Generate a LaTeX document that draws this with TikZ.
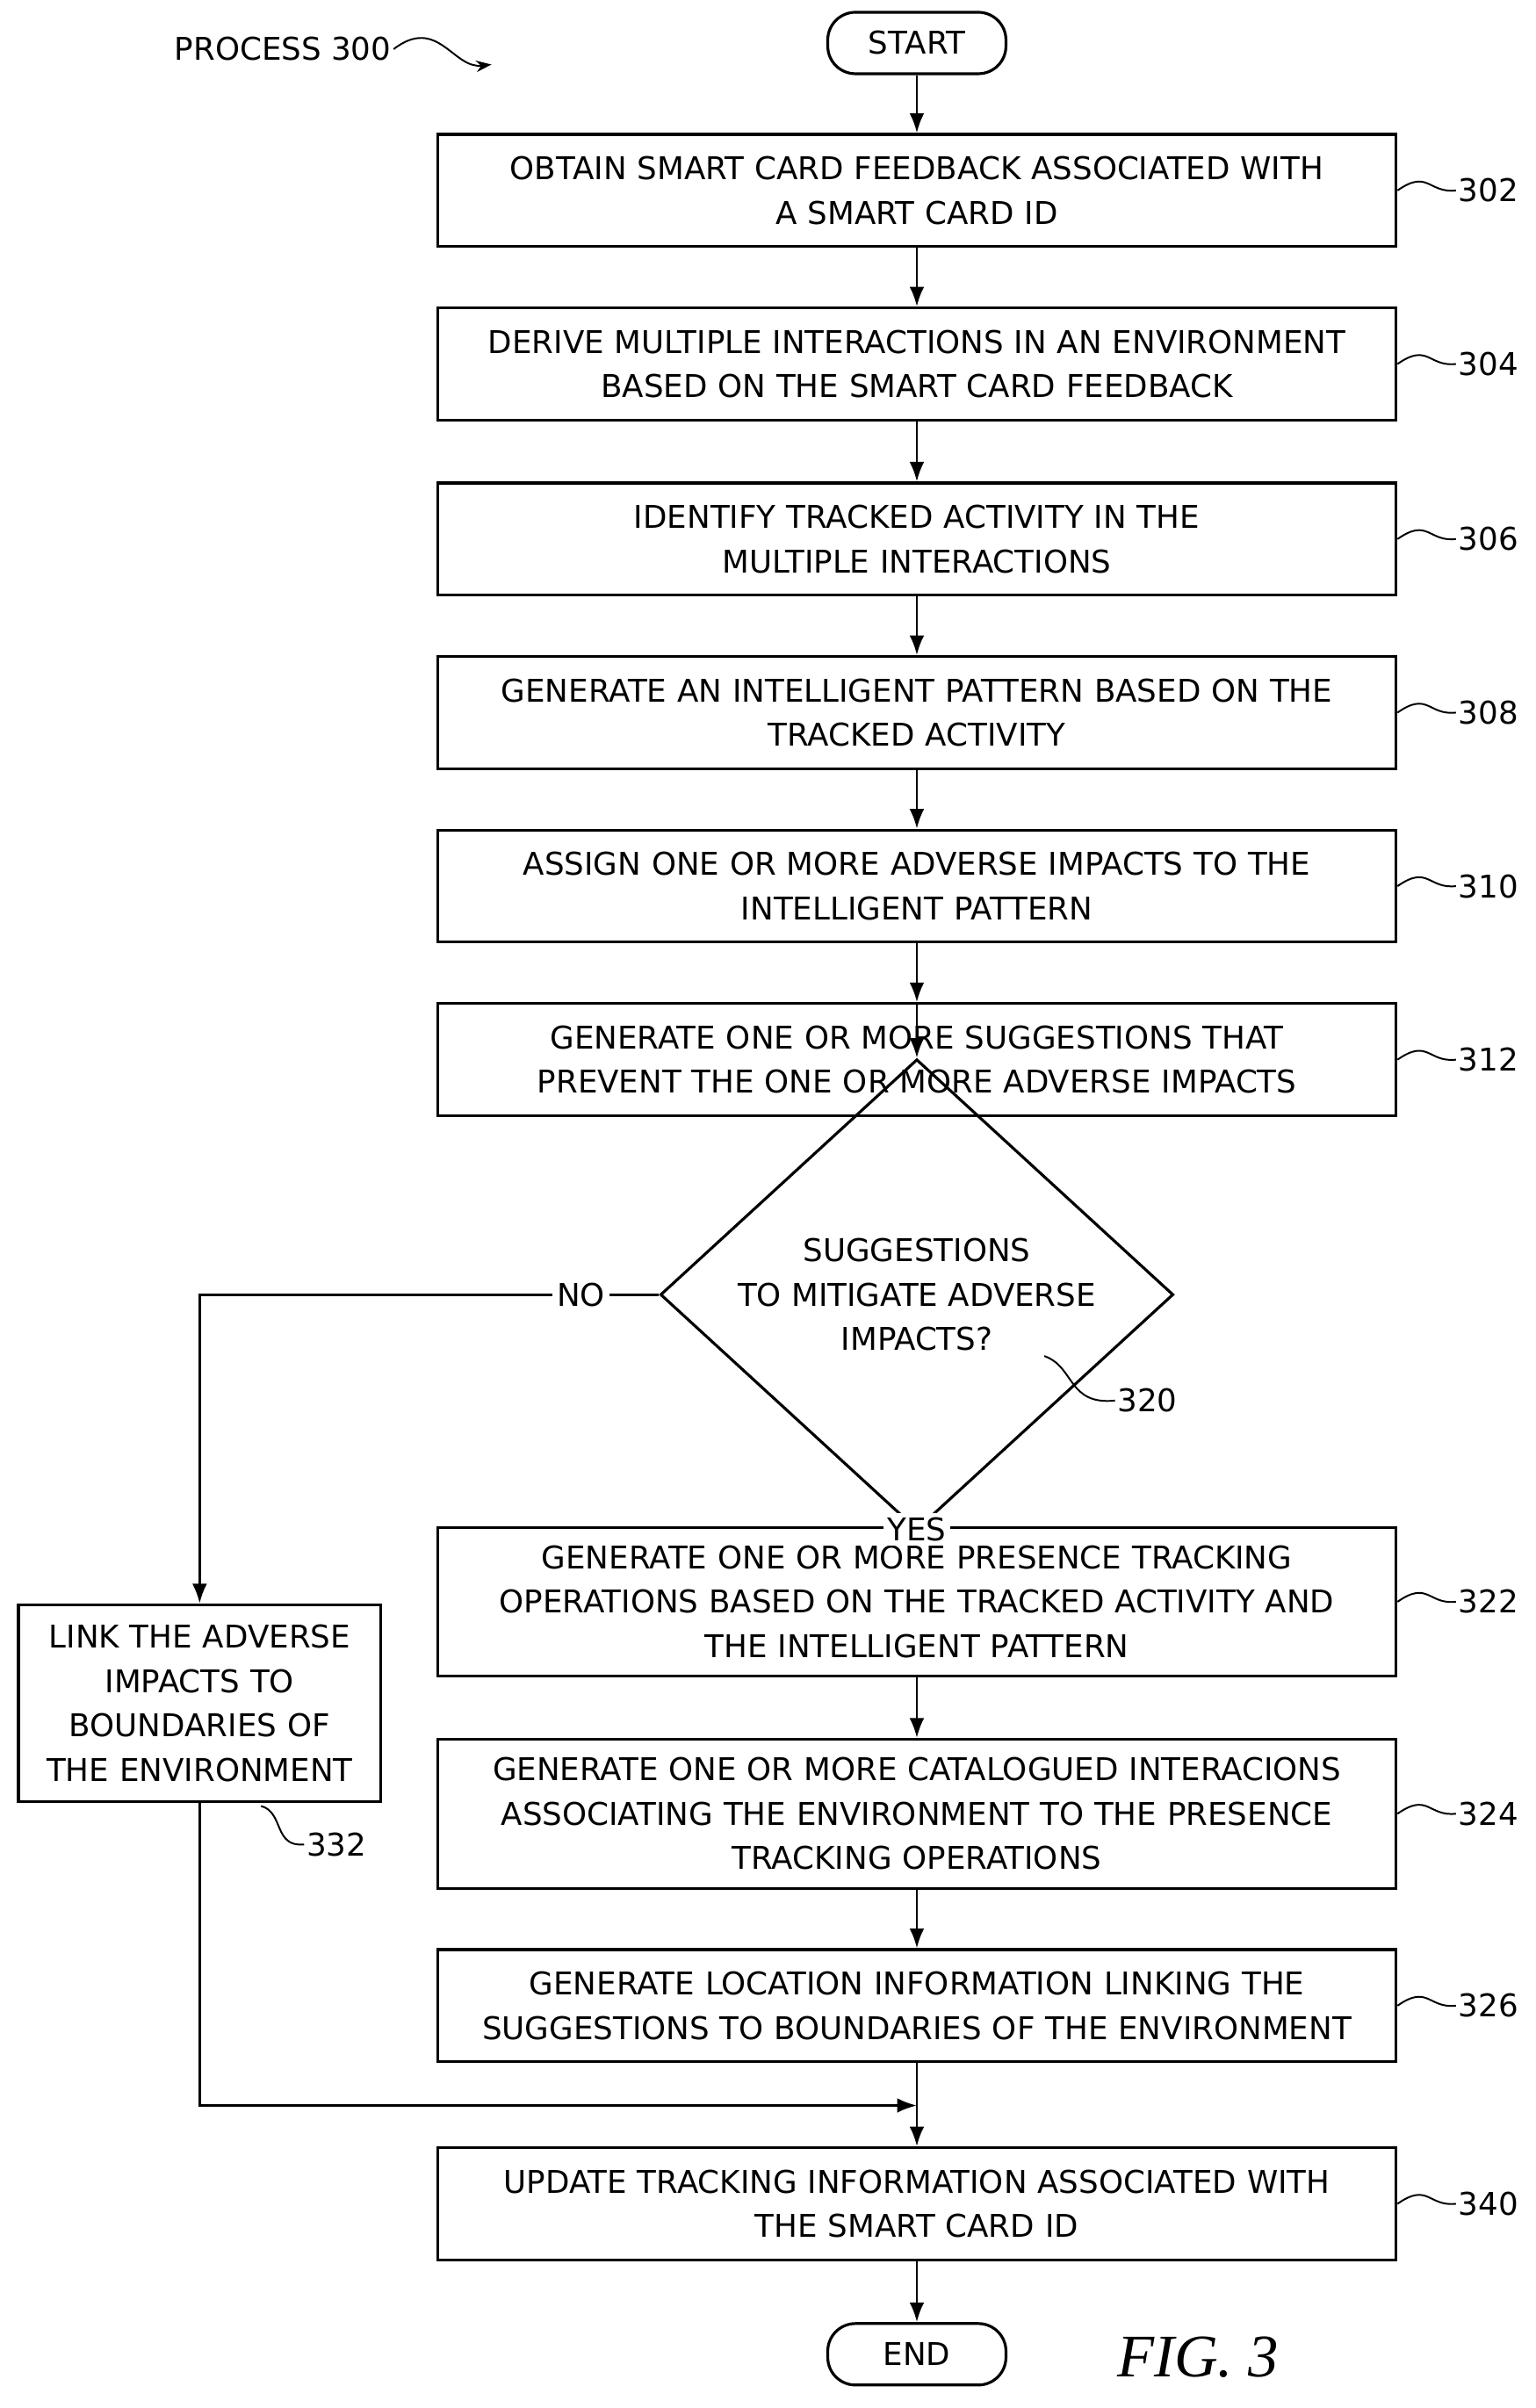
\documentclass[tikz,border=0pt]{standalone}
\usepackage{fontspec}
\setmainfont{DejaVu Sans}
\newfontfamily\figfont{Liberation Serif}
\usetikzlibrary{shapes.geometric, arrows.meta, positioning}
\tikzstyle{arrow} = [-{Latex[length=3.2mm,width=2.4mm]}, line width=1.1pt]
\tikzstyle{stepbox} = [draw, line width=1.3pt, minimum width=15.6cm, minimum height=1.825cm, text width=15.4cm, align=center, inner sep=0pt, font=\fontsize{14.5}{20.6}\selectfont]
\tikzstyle{term} = [draw, line width=1.3pt, rounded corners=0.45cm, minimum width=2.9cm, minimum height=1cm, font=\fontsize{14.5}{20.6}\selectfont]
\tikzstyle{ref} = [font=\fontsize{14.5}{20.6}\selectfont, anchor=west, inner sep=1pt]
\tikzstyle{lead} = [line width=0.8pt]

\begin{document}
\begin{tikzpicture}[x=0.025cm, y=-0.025cm]
    \useasboundingbox (0,0) rectangle (1000,1568);

    % Header
    \node[ref] (proc) at (112,32) {PROCESS 300};
    \draw[lead, -{Stealth[length=2.5mm]}] (proc.east) .. controls (285,10) and (295,45) .. (320,42);

    % Terminals
    \node[term] (start) at (597,28) {START};
    \node[term] (end) at (597,1533) {END};

    % Main steps
    \node[stepbox] (s302) at (597,124) {OBTAIN SMART CARD FEEDBACK ASSOCIATED WITH\\A SMART CARD ID};
    \node[stepbox] (s304) at (597,237) {DERIVE MULTIPLE INTERACTIONS IN AN ENVIRONMENT\\BASED ON THE SMART CARD FEEDBACK};
    \node[stepbox] (s306) at (597,351) {IDENTIFY TRACKED ACTIVITY IN THE\\MULTIPLE INTERACTIONS};
    \node[stepbox] (s308) at (597,464) {GENERATE AN INTELLIGENT PATTERN BASED ON THE\\TRACKED ACTIVITY};
    \node[stepbox] (s310) at (597,577) {ASSIGN ONE OR MORE ADVERSE IMPACTS TO THE\\INTELLIGENT PATTERN};
    \node[stepbox] (s312) at (597,690) {GENERATE ONE OR MORE SUGGESTIONS THAT\\PREVENT THE ONE OR MORE ADVERSE IMPACTS};
    \node[diamond, draw, line width=1.3pt, minimum width=8.35cm, minimum height=3.75cm, inner sep=0pt, align=center, font=\fontsize{14.5}{20.6}\selectfont] (d320) at (597,843) {SUGGESTIONS\\TO MITIGATE ADVERSE\\IMPACTS?};
    \node[stepbox, minimum height=2.425cm] (s322) at (597,1043) {GENERATE ONE OR MORE PRESENCE TRACKING\\OPERATIONS BASED ON THE TRACKED ACTIVITY AND\\THE INTELLIGENT PATTERN};
    \node[stepbox, minimum height=2.425cm] (s324) at (597,1181) {GENERATE ONE OR MORE CATALOGUED INTERACIONS\\ASSOCIATING THE ENVIRONMENT TO THE PRESENCE\\TRACKING OPERATIONS};
    \node[stepbox] (s326) at (597,1306) {GENERATE LOCATION INFORMATION LINKING THE\\SUGGESTIONS TO BOUNDARIES OF THE ENVIRONMENT};
    \node[stepbox] (s340) at (597,1435) {UPDATE TRACKING INFORMATION ASSOCIATED WITH\\THE SMART CARD ID};
    \node[stepbox, minimum width=5.9cm, text width=5.8cm, minimum height=3.2cm] (s332) at (130,1109) {LINK THE ADVERSE\\IMPACTS TO\\BOUNDARIES OF\\THE ENVIRONMENT};

    % Flow
    \draw[arrow] (start) -- (s302);
    \draw[arrow] (s302) -- (s304);
    \draw[arrow] (s304) -- (s306);
    \draw[arrow] (s306) -- (s308);
    \draw[arrow] (s308) -- (s310);
    \draw[arrow] (s310) -- (s312);
    \draw[arrow] (s312) -- (d320);
    \draw[arrow] (d320) -- node[fill=white, font=\fontsize{14.5}{20.6}\selectfont, inner sep=2pt, pos=0.38] {YES} (s322);
    \draw[arrow] (s322) -- (s324);
    \draw[arrow] (s324) -- (s326);
    \draw[arrow] (s326) -- (s340);
    \draw[arrow] (s340) -- (end);
    \draw[arrow] (d320.west) -- node[fill=white, font=\fontsize{14.5}{20.6}\selectfont, inner sep=2pt, pos=0.17] {NO} (130,843) -- (s332.north);
    \coordinate (join) at (597,1371);
    \draw[arrow] (s332.south) -- (130,1371) -- (join);

    % Reference numerals
    \foreach \n/\y in {302/124, 304/237, 306/351, 308/464, 310/577, 312/690, 322/1043, 324/1181, 326/1306, 340/1435} {
        \node[ref] (r\n) at (948,\y) {\n};
        \draw[lead] (s\n.east) .. controls (930,\y-14) and (930,\y+2) .. (r\n.west);
    }
    \node[ref] (r320) at (726,912) {320};
    \draw[lead] (680,883) .. controls (700,890) and (695,915) .. (r320.west);
    \node[ref] (r332) at (198,1201) {332};
    \draw[lead] (170,1176) .. controls (185,1180) and (178,1203) .. (r332.west);

    % Figure label
    \node[font=\figfont\itshape\fontsize{28}{30}\selectfont] (fig) at (780,1535) {FIG. 3};
\end{tikzpicture}
\end{document}
